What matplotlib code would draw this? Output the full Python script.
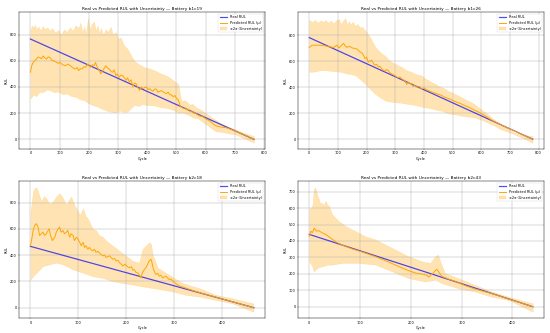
import matplotlib
matplotlib.use("Agg")
import matplotlib.pyplot as plt
import numpy as np

# ---------------- b1c19 ----------------
b1c19_real_cyc = [0, 766]
b1c19_real = [766, 0]
b1c19_cyc = [0, 4, 9, 14, 20, 26, 32, 38, 44, 50, 55, 61, 67, 73, 79, 88, 96, 102, 110, 119, 128, 137, 146,
             154, 160, 165, 171, 177, 183, 189, 197, 202, 206, 212, 218, 223, 229, 235, 241, 247, 252, 258,
             264, 270, 276, 281, 287, 293, 298, 304, 310, 316, 322, 328, 333, 339, 345, 351, 356, 362, 368,
             374, 380, 385, 391, 397, 403, 409, 414, 420, 426, 432, 437, 443, 449, 455, 460, 466, 472, 478,
             484, 490, 495, 501, 507, 513, 518, 524, 530, 536, 541, 547, 553, 559, 564, 570, 578, 588, 594,
             600, 606, 611, 617, 623, 628, 634, 640, 645, 651, 660, 669, 680, 692, 705, 720, 740, 766]
b1c19_mu = [512, 560, 587, 600, 610, 628, 625, 615, 637, 620, 612, 630, 625, 605, 600, 590, 580, 587, 570, 562,
            575, 562, 545, 537, 548, 525, 540, 537, 555, 550, 575, 560, 550, 570, 562, 587, 550, 530, 500,
            525, 540, 562, 545, 537, 520, 512, 530, 487, 500, 475, 490, 487, 470, 450, 470, 437, 455, 400,
            430, 425, 395, 375, 400, 387, 395, 400, 380, 387, 375, 367, 385, 382, 360, 367, 372, 362, 355,
            350, 360, 342, 338, 325, 335, 312, 300, 255, 245, 237, 240, 225, 230, 212, 215, 200, 205, 192,
            180, 175, 168, 158, 150, 145, 135, 125, 115, 105, 100, 98, 95, 92, 90, 82, 72, 60, 46, 28, 0]
b1c19_up_cyc = [0, 5, 10, 15, 20, 28, 35, 42, 50, 58, 67, 75, 85, 95, 105, 115, 125, 135, 145, 155, 165, 171,
                178, 185, 190, 197, 204, 210, 218, 224, 230, 236, 241, 250, 258, 266, 275, 283, 292, 300, 310,
                320, 333, 345, 356, 370, 391, 410, 426, 450, 472, 490, 507, 512, 518, 530, 545, 556, 567, 585,
                600, 617, 634, 660, 680, 703, 730, 766]
b1c19_up = [837, 870, 850, 875, 845, 860, 830, 865, 840, 855, 830, 850, 815, 835, 800, 840, 820, 855, 830, 870,
            850, 890, 820, 860, 800, 925, 840, 880, 900, 830, 870, 810, 850, 800, 840, 820, 860, 800, 820, 770,
            775, 720, 690, 640, 600, 575, 550, 540, 525, 500, 480, 450, 420, 350, 290, 300, 265, 270, 245, 225,
            200, 175, 150, 115, 95, 75, 50, 25]
b1c19_lo_cyc = [0, 10, 20, 30, 44, 55, 67, 80, 95, 110, 125, 140, 155, 170, 183, 200, 215, 230, 241, 255, 265,
                275, 290, 305, 320, 333, 345, 356, 370, 385, 400, 414, 430, 450, 472, 490, 507, 520, 541, 560,
                575, 588, 605, 620, 634, 660, 680, 703, 730, 766]
b1c19_lo = [312, 340, 330, 360, 362, 380, 375, 360, 365, 345, 350, 330, 325, 305, 300, 275, 260, 250, 237, 225,
            215, 212, 205, 220, 210, 212, 240, 262, 255, 270, 260, 262, 255, 245, 237, 225, 200, 205, 187, 165,
            160, 137, 110, 85, 62, 55, 45, 37, 10, -25]

# ---------------- b1c26 ----------------
b1c26_real_cyc = [0, 780]
b1c26_real = [780, 0]
b1c26_cyc = [0, 10, 33, 56, 68, 85, 97, 103, 108, 114, 120, 126, 131, 137, 143, 151, 160, 168, 177, 186, 195,
             200, 206, 212, 218, 223, 229, 235, 241, 247, 252, 258, 264, 270, 275, 281, 287, 293, 298, 304,
             310, 316, 322, 328, 333, 340, 345, 350, 356, 362, 368, 374, 379, 385, 391, 396, 402, 408, 414,
             425, 437, 448, 460, 471, 483, 494, 506, 518, 529, 541, 552, 564, 575, 587, 598, 610, 621, 633,
             644, 667, 690, 713, 736, 779]
b1c26_mu = [705, 722, 722, 717, 710, 705, 722, 700, 710, 725, 735, 715, 705, 712, 710, 700, 697, 690, 671, 658,
            619, 630, 593, 600, 606, 585, 568, 575, 555, 560, 542, 530, 524, 535, 529, 510, 503, 495, 490,
            480, 472, 478, 465, 455, 452, 420, 439, 430, 426, 405, 413, 402, 400, 405, 387, 392, 393, 380,
            376, 365, 355, 347, 338, 324, 315, 306, 292, 282, 273, 259, 250, 238, 225, 213, 200, 185, 171,
            152, 138, 113, 90, 67, 44, 0]
b1c26_up_cyc = [0, 10, 20, 30, 40, 50, 56, 65, 75, 85, 95, 104, 110, 118, 126, 132, 138, 145, 152, 160, 168,
                176, 184, 195, 207, 218, 230, 242, 253, 265, 277, 288, 300, 311, 322, 335, 345, 357, 370, 381,
                391, 405, 415, 426, 440, 450, 461, 475, 485, 496, 510, 520, 530, 545, 560, 576, 590, 605, 622,
                640, 655, 668, 690, 714, 740, 777]
b1c26_up = [916, 900, 915, 895, 912, 900, 916, 895, 910, 890, 915, 921, 885, 910, 929, 880, 905, 880, 903, 870,
            885, 860, 864, 835, 800, 760, 710, 680, 658, 640, 610, 593, 580, 565, 555, 535, 525, 516, 500, 495,
            490, 465, 455, 439, 425, 410, 400, 385, 370, 361, 345, 335, 323, 305, 290, 271, 245, 220, 194,
            160, 135, 116, 85, 52, 35, 25]
b1c26_lo_cyc = [0, 20, 40, 56, 75, 95, 114, 130, 145, 161, 175, 185, 195, 210, 220, 230, 248, 265, 280, 299,
                320, 345, 370, 385, 403, 430, 445, 460, 478, 495, 510, 530, 550, 576, 600, 622, 645, 668, 690,
                714, 745, 777]
b1c26_lo = [516, 520, 530, 529, 525, 520, 516, 505, 500, 490, 465, 445, 426, 390, 370, 348, 320, 297, 290, 284,
            280, 271, 262, 255, 245, 235, 225, 219, 205, 194, 190, 181, 175, 168, 150, 129, 105, 77, 60, 39,
            10, -26]

# ---------------- b2c18 ----------------
b2c18_real_cyc = [0, 467]
b2c18_real = [467, 0]
b2c18_cyc = [0, 3.5, 5.5, 9, 12.5, 16, 19, 23, 26, 30, 33, 37, 39, 42, 46, 51, 54, 58, 61, 64, 68, 71, 75,
             78, 82, 85, 89, 92, 96, 99, 103, 106, 110, 113, 116, 120, 123, 127, 130, 134, 137, 141, 144, 148,
             151, 155, 158, 162, 165, 169, 172, 176, 179, 183, 186, 190, 193, 197, 200, 204, 207, 211, 214,
             217, 220, 224, 227, 231, 234, 238, 241, 245, 248, 252, 254, 257, 262, 266, 269, 273, 276, 280,
             283, 287, 290, 294, 297, 300, 304, 310, 324, 340, 360, 400, 440, 466]
b2c18_mu = [472, 537, 588, 627, 640, 614, 550, 563, 575, 550, 563, 588, 601, 550, 511, 537, 575, 601, 614, 575,
            588, 563, 575, 588, 537, 563, 550, 511, 537, 524, 498, 472, 498, 459, 472, 446, 459, 440, 433,
            445, 421, 430, 416, 405, 395, 400, 382, 390, 395, 380, 369, 375, 356, 362, 343, 330, 317, 330,
            322, 310, 304, 312, 286, 290, 271, 265, 253, 227, 266, 291, 304, 330, 356, 369, 343, 291, 253,
            262, 240, 248, 227, 235, 240, 225, 214, 220, 201, 195, 183, 168, 150, 130, 108, 68, 27, 0]
b2c18_up_cyc = [0, 5.5, 9, 12.5, 16, 20, 23, 28, 33, 40, 47, 54, 61, 68, 75, 80, 85, 92, 97, 103, 110, 115,
                120, 130, 137, 144, 151, 158, 172, 186, 200, 214, 227, 234, 241, 248, 252, 255, 266, 283, 300,
                317, 352, 387, 422, 466]
b2c18_up = [730, 885, 911, 916, 885, 840, 808, 850, 834, 790, 808, 847, 872, 834, 782, 820, 847, 782, 750, 705,
            756, 700, 679, 601, 590, 550, 540, 511, 472, 433, 395, 356, 343, 446, 472, 498, 485, 408, 304,
            266, 227, 188, 150, 98, 72, 33]
b2c18_lo_cyc = [0, 5.5, 12.5, 26, 40, 54, 68, 89, 110, 130, 151, 172, 193, 214, 234, 255, 276, 297, 324,
                352, 387, 422, 466]
b2c18_lo = [214, 240, 266, 317, 330, 343, 330, 291, 266, 240, 227, 201, 188, 175, 162, 150, 137, 124, 98,
            85, 59, 33, -31]

# ---------------- b2c43 ----------------
b2c43_real_cyc = [0, 440]
b2c43_real = [440, 0]
b2c43_cyc = [0, 3, 6, 10, 14, 19, 25, 32, 39, 52, 65, 84, 104, 130, 156, 176, 195, 209, 222, 231, 235, 238,
             244, 251, 254, 261, 274, 287, 307, 326, 359, 392, 440]
b2c43_mu = [429, 460, 450, 478, 460, 462, 450, 440, 425, 395, 375, 352, 333, 305, 272, 245, 220, 205, 198, 192,
            180, 188, 205, 228, 215, 185, 168, 155, 128, 108, 80, 47, 0]
b2c43_up_cyc = [0, 6, 9, 12, 16, 19, 22, 25, 28, 32, 36, 39, 45, 58, 71, 91, 110, 130, 150, 169, 195, 222, 238,
                248, 253, 258, 267, 293, 326, 359, 392, 440]
b2c43_up = [593, 613, 716, 726, 675, 654, 625, 634, 615, 644, 620, 613, 562, 521, 491, 460, 429, 409, 378, 348,
            307, 276, 266, 307, 317, 276, 204, 174, 133, 92, 61, 20]
b2c43_lo_cyc = [0, 6, 9, 12, 18, 25, 35, 45, 65, 97, 130, 163, 195, 228, 248, 261, 293, 326, 359, 392, 440]
b2c43_lo = [276, 245, 215, 225, 240, 245, 255, 256, 266, 266, 256, 215, 174, 153, 164, 143, 112, 92, 61, 41, -31]

panels = [
    ("b1c19", b1c19_real_cyc, b1c19_real, b1c19_cyc, b1c19_mu, b1c19_up_cyc, b1c19_up, b1c19_lo_cyc, b1c19_lo),
    ("b1c26", b1c26_real_cyc, b1c26_real, b1c26_cyc, b1c26_mu, b1c26_up_cyc, b1c26_up, b1c26_lo_cyc, b1c26_lo),
    ("b2c18", b2c18_real_cyc, b2c18_real, b2c18_cyc, b2c18_mu, b2c18_up_cyc, b2c18_up, b2c18_lo_cyc, b2c18_lo),
    ("b2c43", b2c43_real_cyc, b2c43_real, b2c43_cyc, b2c43_mu, b2c43_up_cyc, b2c43_up, b2c43_lo_cyc, b2c43_lo),
]

W = 21.5
fig, axes = plt.subplots(2, 2, figsize=(W, W * 333 / 550), dpi=550 / W)
fig.subplots_adjust(left=0.035, right=0.989, bottom=0.045, top=0.964, wspace=0.134, hspace=0.236)

for ax, (name, rc, rv, pc, pm, uc, uv, lc, lv) in zip(axes.flat, panels):
    grid = np.array(sorted(set(uc) | set(lc) | set(pc)), dtype=float)
    up = np.interp(grid, uc, uv)
    lo = np.interp(grid, lc, lv)
    ax.plot(rc, rv, color="blue", alpha=0.7, lw=3.4, label="Real RUL")
    ax.plot(pc, pm, color="orange", lw=2.7, label="Predicted RUL (μ)")
    ax.fill_between(grid, lo, up, color="orange", alpha=0.3, label="±2σ (Uncertainty)")
    ax.set_title(f"Real vs Predicted RUL with Uncertainty — Battery {name}")
    ax.set_xlabel("Cycle")
    ax.set_ylabel("RUL")
    ax.grid(True, lw=1.3)
    for s in ax.spines.values():
        s.set_linewidth(1.3)
    ax.legend(loc="upper right")

fig.savefig("out.png")
